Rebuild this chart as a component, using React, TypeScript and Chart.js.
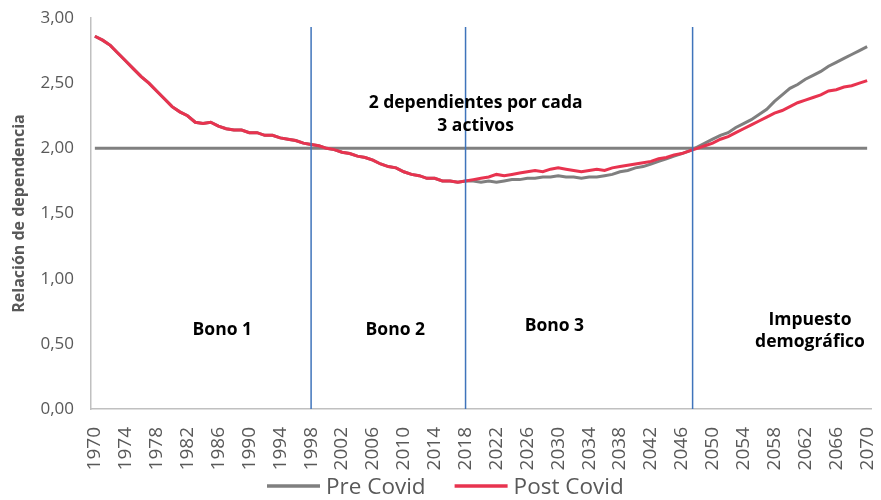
import React, { useEffect, useRef } from "react";
import { Chart, registerables } from "chart.js";

Chart.register(...registerables);

const years: number[] = [];
for (let y = 1970; y <= 2070; y++) years.push(y);

const postCovid = [
  2.86, 2.83, 2.79, 2.73, 2.67, 2.61, 2.55, 2.50, 2.44, 2.38,
  2.32, 2.28, 2.25, 2.20, 2.19, 2.20, 2.17, 2.15, 2.14, 2.14,
  2.12, 2.12, 2.10, 2.10, 2.08, 2.07, 2.06, 2.04, 2.03, 2.02,
  2.00, 1.99, 1.97, 1.96, 1.94, 1.93, 1.91, 1.88, 1.86, 1.85,
  1.82, 1.80, 1.79, 1.77, 1.77, 1.75, 1.75, 1.74, 1.75, 1.76,
  1.77, 1.78, 1.80, 1.79, 1.80, 1.81, 1.82, 1.83, 1.82, 1.84,
  1.85, 1.84, 1.83, 1.82, 1.83, 1.84, 1.83, 1.85, 1.86, 1.87,
  1.88, 1.89, 1.90, 1.92, 1.93, 1.95, 1.96, 1.98, 2.00, 2.02,
  2.04, 2.07, 2.09, 2.12, 2.15, 2.18, 2.21, 2.24, 2.27, 2.29,
  2.32, 2.35, 2.37, 2.39, 2.41, 2.44, 2.45, 2.47, 2.48, 2.50,
  2.52,
];

const preCovid = [
  2.86, 2.83, 2.79, 2.73, 2.67, 2.61, 2.55, 2.50, 2.44, 2.38,
  2.32, 2.28, 2.25, 2.20, 2.19, 2.20, 2.17, 2.15, 2.14, 2.14,
  2.12, 2.12, 2.10, 2.10, 2.08, 2.07, 2.06, 2.04, 2.03, 2.02,
  2.00, 1.99, 1.97, 1.96, 1.94, 1.93, 1.91, 1.88, 1.86, 1.85,
  1.82, 1.80, 1.79, 1.77, 1.77, 1.75, 1.75, 1.74, 1.75, 1.75,
  1.74, 1.75, 1.74, 1.75, 1.76, 1.76, 1.77, 1.77, 1.78, 1.78,
  1.79, 1.78, 1.78, 1.77, 1.78, 1.78, 1.79, 1.80, 1.82, 1.83,
  1.85, 1.86, 1.88, 1.90, 1.92, 1.94, 1.96, 1.98, 2.01, 2.04,
  2.07, 2.10, 2.12, 2.16, 2.19, 2.22, 2.26, 2.30, 2.36, 2.41,
  2.46, 2.49, 2.53, 2.56, 2.59, 2.63, 2.66, 2.69, 2.72, 2.75,
  2.78,
];

const referenceLevel = 2.0;
const periodBoundaries = [1998, 2018, 2047.4];
const boundaryTop = 2.93;

const xTickLabels = [
  1970, 1974, 1978, 1982, 1986, 1990, 1994, 1998, 2002, 2006, 2010, 2014,
  2018, 2022, 2026, 2030, 2034, 2038, 2042, 2046, 2050, 2054, 2058, 2062,
  2066, 2070,
];
const yTickValues = [0, 0.5, 1, 1.5, 2, 2.5, 3];

const annotations = [
  { x: 2019.3, y: 2.345, text: "2 dependientes por cada" },
  { x: 2019.3, y: 2.17, text: "3 activos" },
  { x: 1986.5, y: 0.605, text: "Bono 1" },
  { x: 2008.9, y: 0.605, text: "Bono 2" },
  { x: 2029.5, y: 0.635, text: "Bono 3" },
  { x: 2062.6, y: 0.685, text: "Impuesto" },
  { x: 2062.6, y: 0.515, text: "demográfico" },
];

const legendSeries = ["Pre Covid", "Post Covid"];

const FONT = "'Open Sans', 'Noto Sans', sans-serif";

const textPlugin = {
  id: "annotText",
  afterDatasetsDraw(chart: any) {
    const { ctx, scales } = chart;
    ctx.save();
    ctx.fillStyle = "#000000";
    ctx.font = `bold 17.5px ${FONT}`;
    ctx.textAlign = "center";
    ctx.textBaseline = "middle";
    annotations.forEach((a) => {
      ctx.fillText(a.text, scales.x.getPixelForValue(a.x), scales.y.getPixelForValue(a.y));
    });
    ctx.restore();
  },
};

const legendPlugin = {
  id: "lineLegend",
  afterDraw(chart: any) {
    const { ctx } = chart;
    const y = 487;
    const sampleW = 53;
    const gapText = 6;
    const gapItems = 29;
    ctx.save();
    ctx.font = `22.5px ${FONT}`;
    ctx.textBaseline = "middle";
    ctx.textAlign = "left";
    let x = 267;
    legendSeries.forEach((name) => {
      const ds = chart.data.datasets.find((d: any) => d.label === name);
      ctx.strokeStyle = ds.borderColor;
      ctx.lineWidth = 3.5;
      ctx.beginPath();
      ctx.moveTo(x, y - 1);
      ctx.lineTo(x + sampleW, y - 1);
      ctx.stroke();
      x += sampleW + gapText;
      ctx.fillStyle = "#595959";
      ctx.fillText(name, x, y + 1);
      x += ctx.measureText(name).width + gapItems;
    });
    ctx.restore();
  },
};

export default function App() {
  const canvasRef = useRef<HTMLCanvasElement | null>(null);

  useEffect(() => {
    if (!canvasRef.current) return;
    const toPoints = (vals: number[]) => years.map((yr, i) => ({ x: yr, y: vals[i] }));
    const datasets: any[] = [
      {
        label: "ref",
        data: years.map((yr) => ({ x: yr, y: referenceLevel })),
        borderColor: "#808080",
        borderWidth: 3,
        pointRadius: 0,
        order: 3,
      },
      {
        label: "Pre Covid",
        data: toPoints(preCovid),
        borderColor: "#7f7f7f",
        backgroundColor: "#7f7f7f",
        borderWidth: 3,
        pointRadius: 0,
        order: 2,
      },
      {
        label: "Post Covid",
        data: toPoints(postCovid),
        borderColor: "#e8334f",
        backgroundColor: "#e8334f",
        borderWidth: 3,
        pointRadius: 0,
        order: 1,
      },
      ...periodBoundaries.map((b) => ({
        label: "boundary",
        data: [
          { x: b, y: 0 },
          { x: b, y: boundaryTop },
        ],
        borderColor: "#3f74bb",
        borderWidth: 1.5,
        pointRadius: 0,
        order: 0,
      })),
    ];

    const chart = new Chart(canvasRef.current, {
      type: "line",
      data: { datasets },
      options: {
        animation: false,
        responsive: false,
        maintainAspectRatio: false,
        layout: { padding: { left: 7, right: 10, top: 18, bottom: 0 } },
        plugins: {
          tooltip: { enabled: false },
          legend: { display: false },
        },
        scales: {
          x: {
            type: "linear",
            min: 1969.5,
            max: 2070.5,
            grid: { display: false, drawTicks: false },
            border: { display: true, color: "#c0c0c0", width: 1.5 },
            afterBuildTicks: (scale: any) => {
              scale.ticks = xTickLabels.map((v) => ({ value: v }));
            },
            afterFit: (scale: any) => {
              scale.height = 91;
              scale.paddingLeft = 0;
              scale.paddingRight = 0;
            },
            ticks: {
              minRotation: 90,
              maxRotation: 90,
              autoSkip: false,
              padding: 18,
              color: "#595959",
              font: { family: FONT, size: 19 },
              callback: (v: any) => String(v),
            },
          },
          y: {
            type: "linear",
            min: 0,
            max: 3,
            grid: { display: false, drawTicks: false },
            border: { display: true, color: "#c0c0c0", width: 1.5 },
            afterBuildTicks: (scale: any) => {
              scale.ticks = yTickValues.map((v) => ({ value: v }));
            },
            afterFit: (scale: any) => {
              scale.width = 84;
              scale.paddingTop = 0;
              scale.paddingBottom = 0;
            },
            title: {
              display: true,
              text: "Relación de dependencia",
              color: "#595959",
              font: { family: FONT, size: 16, weight: "bold" },
              padding: { top: 3, bottom: 4 },
            },
            ticks: {
              padding: 17,
              color: "#595959",
              font: { family: FONT, size: 17 },
              callback: (v: any) => Number(v).toFixed(2).replace(".", ","),
            },
          },
        },
      },
      plugins: [textPlugin, legendPlugin],
    } as any);
    return () => chart.destroy();
  }, []);

  return (
    <div style={{ position: "fixed", left: 0, top: 0, width: 881, height: 500, background: "#fff" }}>
      <canvas ref={canvasRef} width={881} height={500} style={{ width: 881, height: 500 }} />
    </div>
  );
}
